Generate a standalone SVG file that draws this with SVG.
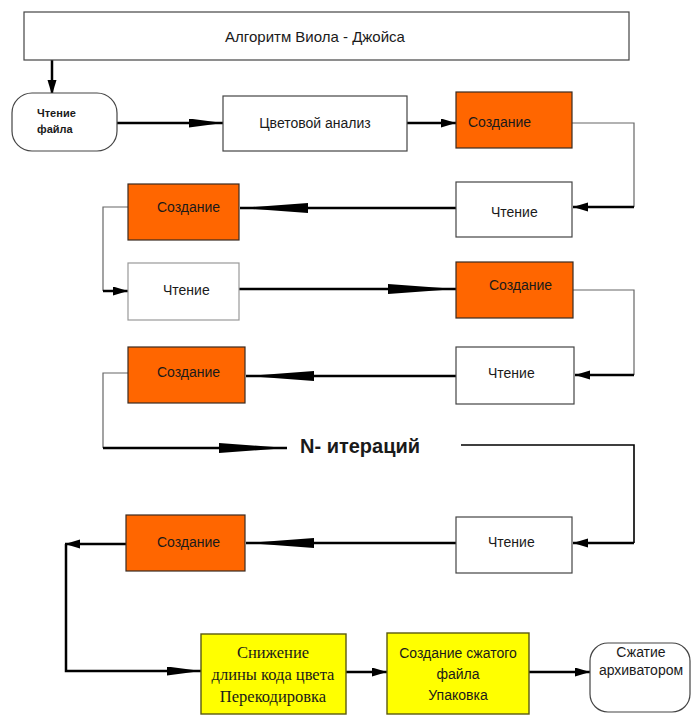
<svg xmlns="http://www.w3.org/2000/svg" width="691" height="715" viewBox="0 0 691 715">
<style>
.box{fill:#ffffff;stroke:#444;stroke-width:1.2}
.org{fill:#ff6600;stroke:#3a2a20;stroke-width:1.2}
.yel{fill:#ffff00;stroke:#5a5a10;stroke-width:1.4}
.t{font-family:"Liberation Sans",Arial,sans-serif;font-size:14px;fill:#1a1a1a}
.tc{text-anchor:middle}
.b{font-weight:bold}
.serif{font-family:"Liberation Serif","Times New Roman",serif;font-size:16.5px;fill:#1a1a1a;text-anchor:middle}
.thick{fill:none;stroke:#000;stroke-width:2.5}
.thin{fill:none;stroke:#666;stroke-width:1.2}
.mid{fill:none;stroke:#000;stroke-width:1.6}
</style>
<defs>
<marker id="long68" markerUnits="userSpaceOnUse" markerWidth="70" markerHeight="12" refX="68" refY="5" orient="auto"><path d="M0,0 L68,5 L0,10 z" fill="#000"/></marker>
<marker id="long34" markerUnits="userSpaceOnUse" markerWidth="36" markerHeight="12" refX="34" refY="4.5" orient="auto"><path d="M0,0 L34,4.5 L0,9 z" fill="#000"/></marker>
<marker id="short" markerUnits="userSpaceOnUse" markerWidth="16" markerHeight="12" refX="15" refY="4.5" orient="auto"><path d="M0,0 L15,4.5 L0,9 z" fill="#000"/></marker>
</defs>

<g id="connectors">
<path class="thick" d="M52,60 V95" marker-end="url(#short)"/>
<path class="thick" d="M117,123 H223" marker-end="url(#long34)"/>
<path class="thick" d="M407,123 H456" marker-end="url(#short)"/>
<path class="thin" d="M572,123 H634 V207"/>
<path class="thick" d="M634,207 H573" marker-end="url(#short)"/>
<path class="thick" d="M456,208 H240" marker-end="url(#long68)"/>
<path class="thin" d="M128,207 H103 V291"/>
<path class="thick" d="M103,291 H128" marker-end="url(#short)"/>
<path class="thick" d="M239,289 H456" marker-end="url(#long68)"/>
<path class="thin" d="M573,290 H634 V375"/>
<path class="thick" d="M634,375 H575" marker-end="url(#short)"/>
<path class="thick" d="M456,376 H246" marker-end="url(#long68)"/>
<path class="thin" d="M128,373 H103 V448"/>
<path class="thick" d="M103,448 H287" marker-end="url(#long68)"/>
<path class="mid" d="M461,445 H634 V543"/>
<path class="thick" d="M634,543 H573" marker-end="url(#short)"/>
<path class="thick" d="M456,543 H246" marker-end="url(#long68)"/>
<path class="thick" d="M126,544 H65" marker-end="url(#short)"/>
<path class="thick" d="M66,544 V671 H201" marker-end="url(#long34)"/>
<path class="thick" d="M346,672 H387" marker-end="url(#short)"/>
<path class="thick" d="M529,672 H590" marker-end="url(#short)"/>
</g>

<g id="title"><rect class="box" x="24" y="12" width="605" height="48"/><text class="t tc" style="font-size:15px" x="315" y="42">Алгоритм Виола - Джойса</text></g>
<g id="read-file"><rect class="box" x="12" y="93" width="105" height="58" rx="20"/><text class="t b" style="font-size:11px" x="37" y="117">Чтение</text><text class="t b" style="font-size:11px" x="37" y="133">файла</text></g>
<g id="color-analysis"><rect class="box" x="223" y="96" width="184" height="55"/><text class="t tc" x="315" y="128">Цветовой анализ</text></g>
<g id="create1"><rect class="org" x="456" y="92" width="116" height="56"/><text class="t" x="468" y="127">Создание</text></g>
<g id="read1"><rect class="box" x="456" y="182" width="116" height="55"/><text class="t" x="491" y="217">Чтение</text></g>
<g id="create2"><rect class="org" x="128" y="184" width="111" height="56"/><text class="t" x="157" y="212">Создание</text></g>
<g id="read2"><rect class="box" style="stroke:#999" x="128" y="263" width="111" height="57"/><text class="t" x="163" y="295">Чтение</text></g>
<g id="create3"><rect class="org" x="456" y="262" width="117" height="56"/><text class="t" x="489" y="290">Создание</text></g>
<g id="read3"><rect class="box" x="456" y="347" width="118" height="57"/><text class="t" x="488" y="378">Чтение</text></g>
<g id="create4"><rect class="org" x="128" y="347" width="117" height="56"/><text class="t" x="157" y="377">Создание</text></g>
<g id="iterations"><text class="t b" style="font-size:20px" x="300" y="453">N- итераций</text></g>
<g id="read4"><rect class="box" x="456" y="517" width="116" height="56"/><text class="t" x="488" y="547">Чтение</text></g>
<g id="create5"><rect class="org" x="126" y="515" width="119" height="56"/><text class="t" x="157" y="547">Создание</text></g>
<g id="recode"><rect class="yel" x="201" y="634" width="145" height="80"/><text class="serif" x="273" y="658">Снижение</text><text class="serif" x="273" y="680">длины кода цвета</text><text class="serif" x="273" y="702">Перекодировка</text></g>
<g id="pack"><rect class="yel" x="387" y="633" width="142" height="81"/><text class="t tc" x="458" y="658">Создание сжатого</text><text class="t tc" x="458" y="679">файла</text><text class="t tc" x="458" y="700">Упаковка</text></g>
<g id="archive"><rect class="box" x="590" y="643" width="100" height="69" rx="18"/><text class="t tc" x="641" y="657">Сжатие</text><text class="t tc" x="641" y="675">архиватором</text></g>
</svg>
